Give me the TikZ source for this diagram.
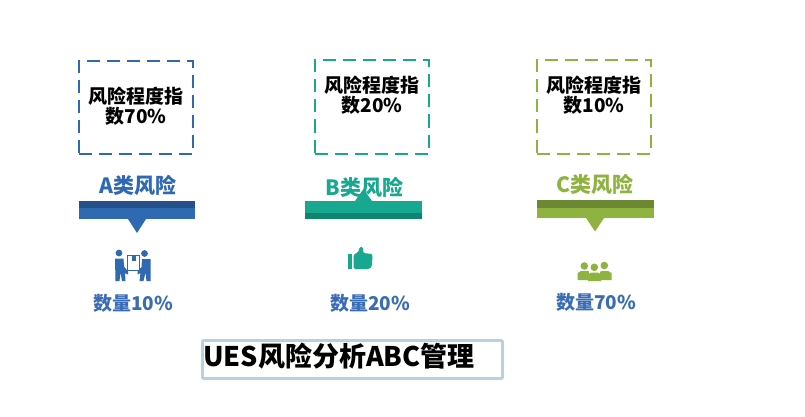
\documentclass[tikz,border=0pt]{standalone}
\usepackage{fontspec}
\setmainfont{Noto Sans CJK SC}
\definecolor{blueA}{HTML}{2F69B2}
\definecolor{blueAdark}{HTML}{255089}
\definecolor{greenB}{HTML}{17A88F}
\definecolor{greenBdark}{HTML}{0F8470}
\definecolor{oliveC}{HTML}{8EB340}
\definecolor{oliveCdark}{HTML}{6C8832}
\definecolor{countblue}{HTML}{3A6CB5}
\definecolor{framecol}{HTML}{B7D2DC}
\tikzset{
  dashbox/.style={draw,line width=2pt,dash pattern=on 13pt off 7pt,minimum width=114pt,minimum height=93pt,inner sep=0pt},
  boxtext/.style={font=\fontsize{19}{20}\selectfont\bfseries,align=center,inner sep=0pt},
  kindtext/.style={font=\fontsize{21}{22}\selectfont\bfseries,inner sep=0pt},
  counttext/.style={font=\fontsize{19}{22}\selectfont\bfseries,text=countblue,inner sep=0pt},
}
\begin{document}
\begin{tikzpicture}[x=1pt,y=-1pt]
\useasboundingbox (0,0) rectangle (805,417);
\node[dashbox,draw=blueA] (boxA) at (136,107.5) {};
\node[dashbox,draw=greenB] (boxB) at (372,107) {};
\node[dashbox,draw=oliveC] (boxC) at (594,107) {};
\node[boxtext] (textA) at (136,106) {风险程度指\\数70\%};
\node[boxtext] (textB) at (372,95) {风险程度指\\数20\%};
\node[boxtext] (textC) at (594,95) {风险程度指\\数10\%};
\node[kindtext,text=blueA] (kindA) at (138,185) {A类风险};
\node[kindtext,text=greenB] (kindB) at (364.5,187) {B类风险};
\node[kindtext,text=oliveC] (kindC) at (594.5,184) {C类风险};
% bars and pointers
\fill[blueAdark] (79,201) rectangle (195,208);
\fill[blueA] (79,208) rectangle (195,219);
\fill[blueA] (128,219) -- (146,219) -- (137,233) -- cycle;
\fill[greenB] (305,201) rectangle (422,213);
\fill[greenBdark] (305,213) rectangle (422,219);
\fill[greenB] (355,201) -- (372,201) -- (363.5,189) -- cycle;
\fill[oliveCdark] (537,200) rectangle (654,208);
\fill[oliveC] (537,208) rectangle (654,218);
\fill[oliveC] (586,218) -- (604,218) -- (595,231.5) -- cycle;
% two people carrying a box
\fill[blueA] (119,253) circle (3.4) (144.5,253.5) circle (3.4);
\draw[blueA,line width=1.1pt] (127.5,255.5) rectangle (139.5,270.5);
\fill[blueA] (131.5,255.5) rectangle (135.5,260.5);
\fill[blueA] (115,258.5) -- (123.5,258.5) -- (124,266.5) -- (128,271.5) -- (128,274.5) -- (125,273) -- (125.5,281) -- (122,281) -- (120.5,272.5) -- (119.5,281) -- (115.5,281) -- cycle;
\fill[blueA] (150.5,259) -- (142,259) -- (141.5,267) -- (137.5,271.5) -- (137.5,274.5) -- (140.5,273) -- (139.5,281) -- (143.5,281) -- (145.5,272.5) -- (146.5,281) -- (150.5,281) -- cycle;
% thumb up
\fill[greenB] (347.5,254) rectangle (352,269);
\fill[greenB,rounded corners=1.5pt] (353.5,254.5) -- (358,252.5) -- (360,246.5) -- (363,247) -- (363,253) -- (372.5,254) -- (372,266) -- (369.5,269) -- (353.5,269) -- cycle;
% three people
\fill[oliveC] (584.3,266) circle (3.8) (604.3,265.5) circle (3.8);
\fill[oliveC] (577.5,273) -- (581,271) -- (588,271) -- (590,273) -- (590,280) -- (577.5,280) -- cycle;
\fill[oliveC] (599,273) -- (601,271) -- (608,271) -- (611.5,273) -- (611.5,280) -- (599,280) -- cycle;
\fill[white] (588.8,266) rectangle (599.8,281.5);
\fill[oliveC] (594.3,267.3) circle (3.8);
\fill[oliveC] (588,274.5) -- (591,272.5) -- (598,272.5) -- (601,274.5) -- (601,281) -- (588,281) -- cycle;
\node[counttext] (countA) at (133,303) {数量10\%};
\node[counttext] (countB) at (370,303) {数量20\%};
\node[counttext] (countC) at (596,302) {数量70\%};
\node[draw=framecol,line width=2.6pt,rounded corners=1pt,minimum width=300pt,minimum height=38pt,inner sep=0pt] (frame) at (352.5,359.5) {};
\node[anchor=west,font=\fontsize{27}{28}\selectfont\bfseries,inner sep=0pt] (title) at (203,356) {UES风险分析ABC管理};
\end{tikzpicture}
\end{document}
